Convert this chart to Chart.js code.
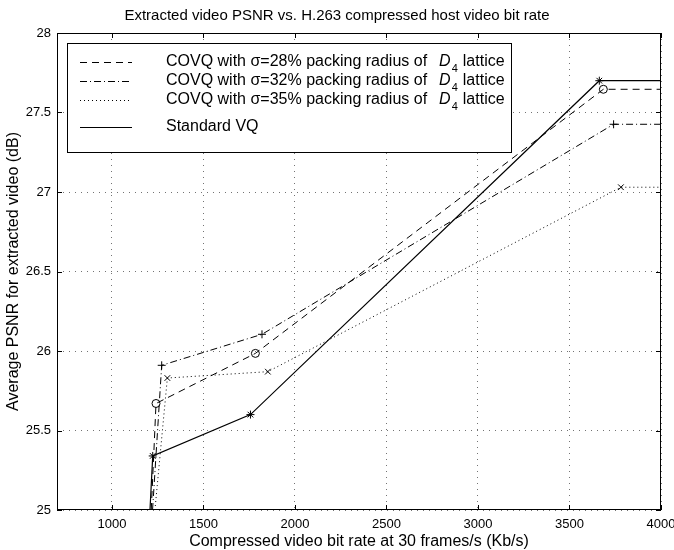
<!DOCTYPE html>
<html><head><meta charset="utf-8">
<script src="https://cdn.jsdelivr.net/npm/chart.js@4"></script>
<style>html,body{margin:0;padding:0;background:#fff}#wrap{width:674px;height:550px}</style>
</head><body><div id="wrap"><canvas id="c" width="674" height="550"></canvas></div>
<script>
const titleText = 'Extracted video PSNR vs. H.263 compressed host video bit rate';
const xTitle = 'Compressed video bit rate at 30 frames/s (Kb/s)';
const yTitle = 'Average PSNR for extracted video (dB)';
const xTicks = [1000, 1500, 2000, 2500, 3000, 3500, 4000];
const yTicks = [25, 25.5, 26, 26.5, 27, 27.5, 28];

const legendPrefixes = ['COVQ with \u03c3=28% packing radius of', 'COVQ with \u03c3=32% packing radius of', 'COVQ with \u03c3=35% packing radius of', 'Standard VQ'];
const legendSuffix = 'lattice';

const covq28X = [1215, 1241, 1784, 3685, 4000];
const covq28Y = [25.0, 25.67, 25.985, 27.646, 27.646];
const covq32X = [1222, 1272, 1820, 3741, 4000];
const covq32Y = [25.0, 25.91, 26.105, 27.426, 27.426];
const covq35X = [1235, 1303, 1852, 3781, 4000];
const covq35Y = [25.0, 25.83, 25.87, 27.03, 27.03];
const stdX = [1208, 1223, 1757, 3663, 4000];
const stdY = [25.0, 25.34, 25.6, 27.70, 27.70];

const pts = (xs, ys) => xs.map((x, i) => ({x: x, y: ys[i]}));
const FONT = '"Liberation Sans", Arial, Helvetica, sans-serif';
const markerR = [0, 4, 4, 4, 0];

const overlay = {
  id: 'overlay',
  afterDatasetsDraw(chart) {
    const ctx = chart.ctx;
    ctx.save();
    const L = 67, T = 43, W = 445, H = 110;
    ctx.fillStyle = '#fff';
    ctx.fillRect(L, T, W, H);
    ctx.strokeStyle = '#000';
    ctx.lineWidth = 1;
    ctx.setLineDash([]);
    ctx.strokeRect(L + 0.5, T + 0.5, W - 1, H - 1);
    const rowsY = [62, 81, 100, 127];
    chart.data.datasets.forEach((ds, i) => {
      const y = rowsY[i];
      ctx.save();
      ctx.strokeStyle = '#000';
      ctx.lineWidth = ds.borderWidth;
      ctx.setLineDash(ds.borderDash || []);
      ctx.beginPath();
      ctx.moveTo(80, y + 0.5);
      ctx.lineTo(132, y + 0.5);
      ctx.stroke();
      ctx.restore();
      ctx.fillStyle = '#000';
      ctx.textBaseline = 'middle';
      ctx.textAlign = 'left';
      ctx.font = '16px ' + FONT;
      const pre = legendPrefixes[i];
      ctx.fillText(pre, 166, y);
      if (i < 3) {
        let x = 166 + ctx.measureText(pre).width + 12;
        ctx.font = 'italic 16px ' + FONT;
        ctx.fillText('D', x, y);
        x += ctx.measureText('D').width + 1;
        ctx.font = '11px ' + FONT;
        ctx.fillText('4', x, y + 7);
        x += ctx.measureText('4').width + 5;
        ctx.font = '16px ' + FONT;
        ctx.fillText(legendSuffix, x, y);
      }
    });
    ctx.restore();
  },
  afterDraw(chart) {
    const ctx = chart.ctx;
    const a = chart.chartArea;
    const xs = chart.scales.x, ys = chart.scales.y;
    ctx.save();
    ctx.strokeStyle = '#000';
    ctx.lineWidth = 1;
    ctx.setLineDash([]);
    ctx.strokeRect(Math.round(a.left) + 0.5, Math.round(a.top) + 0.5, Math.round(a.right - a.left) - 1, Math.round(a.bottom - a.top) - 1);
    const tl = 5;
    ctx.beginPath();
    xTicks.forEach(v => {
      const px = Math.round(xs.getPixelForValue(v)) + 0.5;
      ctx.moveTo(px, a.bottom); ctx.lineTo(px, a.bottom - tl);
      ctx.moveTo(px, a.top); ctx.lineTo(px, a.top + tl);
    });
    yTicks.forEach(v => {
      const py = Math.round(ys.getPixelForValue(v)) + 0.5;
      ctx.moveTo(a.left, py); ctx.lineTo(a.left + tl, py);
      ctx.moveTo(a.right, py); ctx.lineTo(a.right - tl, py);
    });
    ctx.stroke();
    ctx.fillStyle = '#000';
    ctx.font = '15px ' + FONT;
    ctx.textAlign = 'center';
    ctx.textBaseline = 'middle';
    ctx.fillText(titleText, 337, 16);
    ctx.restore();
  }
};

new Chart(document.getElementById('c'), {
  type: 'scatter',
  data: {
    datasets: [
      {label: legendPrefixes[0], data: pts(covq28X, covq28Y), showLine: true, borderColor: '#000', borderWidth: 1, borderDash: [7, 5],
       pointStyle: 'circle', pointRadius: markerR, pointBorderColor: '#000', pointBackgroundColor: 'rgba(0,0,0,0)', pointBorderWidth: 1},
      {label: legendPrefixes[1], data: pts(covq32X, covq32Y), showLine: true, borderColor: '#000', borderWidth: 1, borderDash: [7, 3, 1, 3],
       pointStyle: 'cross', pointRadius: markerR, pointBorderColor: '#000', pointBackgroundColor: 'rgba(0,0,0,0)', pointBorderWidth: 1},
      {label: legendPrefixes[2], data: pts(covq35X, covq35Y), showLine: true, borderColor: '#000', borderWidth: 1, borderDash: [1, 3],
       pointStyle: 'crossRot', pointRadius: markerR, pointBorderColor: '#000', pointBackgroundColor: 'rgba(0,0,0,0)', pointBorderWidth: 1},
      {label: legendPrefixes[3], data: pts(stdX, stdY), showLine: true, borderColor: '#000', borderWidth: 1.2, borderDash: [],
       pointStyle: 'star', pointRadius: markerR, pointBorderColor: '#000', pointBackgroundColor: 'rgba(0,0,0,0)', pointBorderWidth: 1}
    ]
  },
  options: {
    responsive: false,
    animation: false,
    devicePixelRatio: 1,
    layout: {padding: {top: 33, right: 13, left: 0, bottom: 0}},
    plugins: {legend: {display: false}, title: {display: false}, tooltip: {enabled: false}},
    scales: {
      x: {
        type: 'linear', min: 700, max: 4000,
        afterFit(s) { s.height = 40; s.paddingRight = 0; s.paddingLeft = 0; },
        afterBuildTicks(s) { s.ticks = xTicks.map(v => ({value: v})); },
        grid: {color: 'rgba(0,0,0,0.55)', lineWidth: 1, drawTicks: false},
        border: {display: false, dash: [1, 5]},
        ticks: {color: '#000', font: {family: FONT, size: 13}, padding: 7, maxRotation: 0, autoSkip: false,
                callback: v => String(v)},
        title: {display: true, text: xTitle, color: '#000', font: {family: FONT, size: 16, lineHeight: 1}, padding: {top: 0, bottom: 0}}
      },
      y: {
        type: 'linear', min: 25, max: 28,
        afterFit(s) { s.width = 57; s.paddingTop = 0; s.paddingBottom = 0; },
        afterBuildTicks(s) { s.ticks = yTicks.map(v => ({value: v})); },
        grid: {color: 'rgba(0,0,0,0.55)', lineWidth: 1, drawTicks: false},
        border: {display: false, dash: [1, 5]},
        ticks: {color: '#000', font: {family: FONT, size: 13}, padding: 6, autoSkip: false,
                callback: v => String(v)},
        title: {display: true, text: yTitle, color: '#000', font: {family: FONT, size: 16, lineHeight: 1}, padding: {top: 6, bottom: 0}}
      }
    }
  },
  plugins: [overlay]
});
</script>
</body></html>
